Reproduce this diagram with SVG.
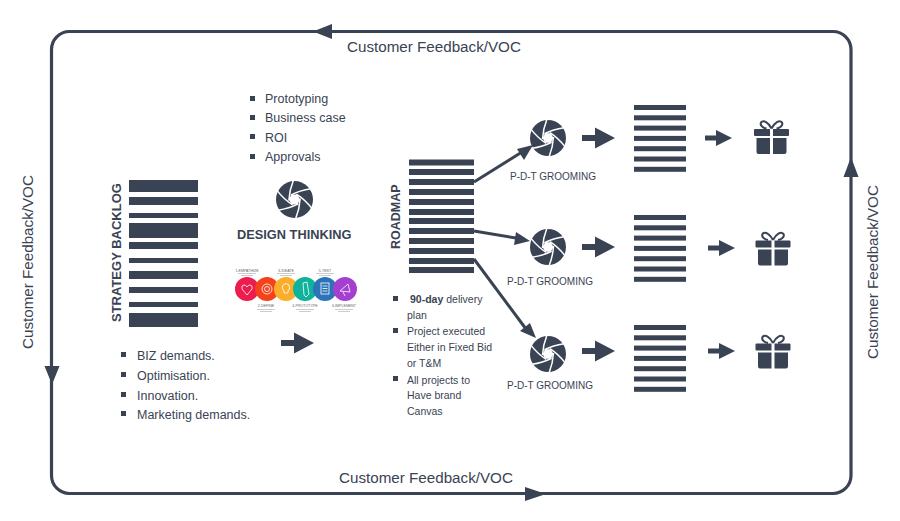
<svg xmlns="http://www.w3.org/2000/svg" width="900" height="521" viewBox="0 0 900 521">
<style>
text{font-family:"Liberation Sans",Arial,sans-serif;fill:#3a4354}
.c{font-size:15.200px}
.b{font-size:12.500px}
.s{font-size:10px}
.l{font-size:10.500px}
.h{font-weight:bold}
.bar{fill:#3a4354}
.t{font-size:3.600px;text-anchor:middle;fill:#666}
.g{fill:#ccc}
.line{fill:none;stroke:#3a4354}
</style>
<defs>
<symbol id="shutter" viewBox="-18 -18 36 36" overflow="visible">
<circle r="18" fill="#3a4354"/>
<g fill="none" stroke="#fff" stroke-width="1.500">
<path d="M5.500 -1 Q5 9 1 19"/>
<path d="M5.500 -1 Q5 9 1 19" transform="rotate(60)"/>
<path d="M5.500 -1 Q5 9 1 19" transform="rotate(120)"/>
<path d="M5.500 -1 Q5 9 1 19" transform="rotate(180)"/>
<path d="M5.500 -1 Q5 9 1 19" transform="rotate(240)"/>
<path d="M5.500 -1 Q5 9 1 19" transform="rotate(300)"/>
</g>
<polygon points="5.500,0 2.750,4.760 -2.750,4.760 -5.500,0 -2.750,-4.760 2.750,-4.760" fill="#fff"/>
</symbol>
<g id="list">
<rect class="bar" x="0" y="0" width="52" height="5"/>
<rect class="bar" x="0" y="10.300" width="52" height="5"/>
<rect class="bar" x="0" y="20.600" width="52" height="5"/>
<rect class="bar" x="0" y="30.900" width="52" height="5"/>
<rect class="bar" x="0" y="41.200" width="52" height="5"/>
<rect class="bar" x="0" y="51.500" width="52" height="5"/>
<rect class="bar" x="0" y="61.800" width="52" height="5"/>
</g>
<g id="gift">
<path class="bar" d="M-16.500 -8.500 H-1.500 V-1.500 H-16.500 Q-17.500 -1.500 -17.500 -2.500 V-7.500 Q-17.500 -8.500 -16.500 -8.500 Z M1.500 -8.500 H16.500 Q17.500 -8.500 17.500 -7.500 V-2.500 Q17.500 -1.500 16.500 -1.500 H1.500 Z"/>
<path class="bar" d="M-15 0.500 H-1.500 V16.500 H-13 Q-15 16.500 -15 14.500 Z M1.500 0.500 H15 V14.500 Q15 16.500 13 16.500 H1.500 Z"/>
<path class="line" stroke-width="2" d="M0 -9 C-3 -15 -8 -18 -10.500 -15 C-12 -12 -8 -9.500 -5 -9 M0 -9 C3 -15 8 -18 10.500 -15 C12 -12 8 -9.500 5 -9"/>
</g>
<path id="bigarrow" class="bar" d="M0 -3 H13 V-10.500 L33 0 L13 10.500 V3 H0 Z"/>
<path id="smallarrow" class="bar" d="M0 -2.500 H11 V-8 L27 0 L11 8 V2.500 H0 Z"/>
<path id="sq" class="bar" d="M0 0 H5 V5 H0 Z"/>
</defs>

<g id="connectors">
<rect class="line" x="51.500" y="31.500" width="799.500" height="462" rx="18" stroke-width="3.200"/>
<path class="bar" d="M313 31.500 L332 24 V39 Z"/>
<path class="bar" d="M52 384.500 L44.500 366 H59.500 Z"/>
<path class="bar" d="M546 494 L525 487 V501 Z"/>
<path class="bar" d="M851 157 L858.500 177 H843.500 Z"/>
<path class="line" stroke-width="3" d="M474 182 L522 152"/>
<path class="bar" d="M533 145 L524 160 L517 149 Z"/>
<path class="line" stroke-width="3" d="M474 231 L516 238"/>
<path class="bar" d="M530 241 L514 245 L516 232 Z"/>
<path class="line" stroke-width="3" d="M474 259 L526 329"/>
<path class="bar" d="M536 338 L520 331 L530 323 Z"/>
</g>

<g id="frame-labels">
<text class="c" x="347" y="52">Customer Feedback/VOC</text>
<text class="c" x="339" y="483">Customer Feedback/VOC</text>
<text class="c" transform="translate(33,349) rotate(-90)">Customer Feedback/VOC</text>
<text class="c" transform="translate(878,359) rotate(-90)">Customer Feedback/VOC</text>
</g>

<g id="strategy-backlog">
<rect class="bar" x="129" y="180" width="69" height="12"/>
<rect class="bar" x="129" y="197" width="69" height="8"/>
<rect class="bar" x="129" y="213" width="69" height="5"/>
<rect class="bar" x="129" y="223" width="69" height="15"/>
<rect class="bar" x="129" y="242" width="69" height="7"/>
<rect class="bar" x="129" y="258" width="69" height="5"/>
<rect class="bar" x="129" y="271" width="69" height="8"/>
<rect class="bar" x="129" y="287" width="69" height="6"/>
<rect class="bar" x="129" y="302" width="69" height="5"/>
<rect class="bar" x="129" y="313" width="69" height="14"/>
<text class="h" transform="translate(120.500,322) rotate(-90)" style="font-size:13px">STRATEGY BACKLOG</text>
<use href="#sq" x="121" y="352"/><text class="b" x="137" y="360">BIZ demands.</text>
<use href="#sq" x="121" y="372"/><text class="b" x="137" y="380">Optimisation.</text>
<use href="#sq" x="121" y="392"/><text class="b" x="137" y="400">Innovation.</text>
<use href="#sq" x="121" y="411"/><text class="b" x="137" y="419">Marketing demands.</text>
</g>

<g id="design-thinking">
<use href="#sq" x="250" y="96"/><text class="b" x="265" y="103">Prototyping</text>
<use href="#sq" x="250" y="115"/><text class="b" x="265" y="122">Business case</text>
<use href="#sq" x="250" y="134"/><text class="b" x="265" y="142">ROI</text>
<use href="#sq" x="250" y="154"/><text class="b" x="265" y="161">Approvals</text>
<use href="#shutter" x="276" y="181" width="37" height="37"/>
<text class="h" x="237" y="239" style="font-size:12.800px">DESIGN THINKING</text>
</g>

<g id="infographic">
<circle cx="247" cy="289" r="12" fill="#ed1c4e"/>
<circle cx="267" cy="289" r="12" fill="#f4421c"/>
<circle cx="286" cy="289" r="12" fill="#fbae2c"/>
<circle cx="305" cy="289" r="12" fill="#0fb39c"/>
<circle cx="325" cy="289" r="12" fill="#2b74b8"/>
<circle cx="345" cy="289" r="12" fill="#a53fd0"/>
<g fill="none" stroke="#fff" stroke-width="0.800">
<path d="M247 295 L242 289 Q241 285 244 285 Q246 285 247 287 Q248 285 250 285 Q253 285 252 289 Z"/>
<circle cx="267" cy="289" r="5"/><circle cx="267" cy="289" r="2.500"/>
<path d="M284 293 H288 V291 Q291 288 289 285 Q286 282 283 285 Q281 288 284 291 Z"/>
<path d="M303 283 L307 282 L309 294 L306 297 L304 295 Z"/>
<rect x="321" y="283" width="8" height="11"/><path d="M322.500 286 H327.500 M322.500 288.500 H327.500 M322.500 291 H327.500"/>
<path d="M340 291 L348 284 L350 292 Z M343 292 L345 296"/>
</g>
<text class="t" x="247" y="271.500">1-EMPATHIZE</text><rect class="g" x="238" y="273" width="18" height="1"/><rect class="g" x="241" y="275" width="12" height="1"/>
<text class="t" x="286" y="271.500">3-IDEATE</text><rect class="g" x="277" y="273" width="18" height="1"/><rect class="g" x="280" y="275" width="12" height="1"/>
<text class="t" x="325" y="271.500">5-TEST</text><rect class="g" x="316" y="273" width="18" height="1"/><rect class="g" x="319" y="275" width="12" height="1"/>
<text class="t" x="266" y="307">2-DEFINE</text><rect class="g" x="257" y="309" width="18" height="1"/><rect class="g" x="260" y="311" width="12" height="1"/>
<text class="t" x="305" y="307">4-PROTOTYPE</text><rect class="g" x="296" y="309" width="18" height="1"/><rect class="g" x="299" y="311" width="12" height="1"/>
<text class="t" x="344" y="307">6-IMPLEMENT</text><rect class="g" x="335" y="309" width="18" height="1"/><rect class="g" x="338" y="311" width="12" height="1"/>
<use href="#bigarrow" x="281" y="343"/>
</g>

<g id="roadmap">
<rect class="bar" x="409" y="159.500" width="65" height="6"/>
<rect class="bar" x="409" y="169" width="65" height="6"/>
<rect class="bar" x="409" y="179" width="65" height="6"/>
<rect class="bar" x="409" y="189" width="65" height="6"/>
<rect class="bar" x="409" y="199" width="65" height="6"/>
<rect class="bar" x="409" y="209" width="65" height="6"/>
<rect class="bar" x="409" y="218" width="65" height="6"/>
<rect class="bar" x="409" y="228" width="65" height="6"/>
<rect class="bar" x="409" y="238" width="65" height="6"/>
<rect class="bar" x="409" y="248" width="65" height="6"/>
<rect class="bar" x="409" y="258" width="65" height="6"/>
<rect class="bar" x="409" y="267" width="65" height="6"/>
<text class="h" transform="translate(400,249) rotate(-90)" style="font-size:12.500px">ROADMAP</text>
<use href="#sq" x="393" y="296"/><text class="l" x="410" y="303"><tspan class="h">90-day</tspan> delivery</text>
<text class="l" x="407" y="319">plan</text>
<use href="#sq" x="393" y="328"/><text class="l" x="407" y="335">Project executed</text>
<text class="l" x="407" y="351">Either in Fixed Bid</text>
<text class="l" x="407" y="367">or T&amp;M</text>
<use href="#sq" x="393" y="376"/><text class="l" x="407" y="384">All projects to</text>
<text class="l" x="407" y="399">Have brand</text>
<text class="l" x="407" y="415">Canvas</text>
</g>

<g id="pdt-1">
<use href="#shutter" x="530" y="120" width="36" height="36"/>
<text class="s" x="510" y="180">P-D-T GROOMING</text>
<use href="#bigarrow" x="582" y="138"/>
<use href="#list" x="634" y="105"/>
<use href="#smallarrow" x="705" y="138"/>
<use href="#gift" x="771.500" y="137.500"/>
</g>
<g id="pdt-2">
<use href="#shutter" x="530" y="229" width="36" height="36"/>
<text class="s" x="507" y="285">P-D-T GROOMING</text>
<use href="#bigarrow" x="582" y="247"/>
<use href="#list" x="634" y="215"/>
<use href="#smallarrow" x="708" y="248"/>
<use href="#gift" x="773" y="249"/>
</g>
<g id="pdt-3">
<use href="#shutter" x="530" y="336" width="36" height="36"/>
<text class="s" x="507" y="389">P-D-T GROOMING</text>
<use href="#bigarrow" x="582" y="351"/>
<use href="#list" x="634" y="325"/>
<use href="#smallarrow" x="708" y="351"/>
<use href="#gift" x="773" y="352"/>
</g>
</svg>
